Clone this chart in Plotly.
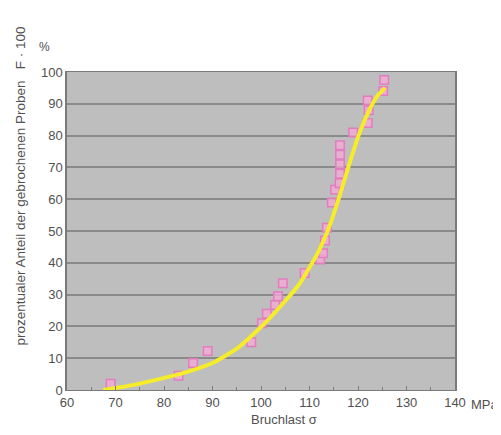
import plotly.graph_objects as go

# Measured data points (Bruchlast in MPa, percentage of broken samples)
sample_x = [69, 83, 86, 89, 98, 100.2, 101.2, 102.9, 103.5, 104.5, 109, 112.2, 112.8, 113.2, 113.6,
            114.6, 115.3, 116.2, 116.3, 116.3, 116.3, 116.3, 119, 122, 122.2, 122, 125.2, 125.4]
sample_y = [2, 4.5, 8.5, 12.3, 15, 21, 24, 26.7, 29.5, 33.6, 36.8, 41, 43, 47, 51,
            59, 63, 65, 68, 71, 74, 77, 81, 84, 88, 91, 94, 97.5]

# Fitted distribution curve
curve_x = [67.5, 70, 75, 80, 85, 90, 95, 100, 105, 108, 110, 112, 114, 116, 118, 120, 122, 124, 125.6]
curve_y = [0, 0.6, 2, 3.8, 5.8, 8.5, 13, 19.8, 28, 33.5, 38.5, 44, 51, 60, 70, 79.5, 87, 92.5, 95]

x_ticks = [60, 70, 80, 90, 100, 110, 120, 130, 140]
y_ticks = [0, 10, 20, 30, 40, 50, 60, 70, 80, 90, 100]

font_family = "Liberation Sans, Arial, sans-serif"
text_color = "#505050"

fig = go.Figure()
fig.add_trace(go.Scatter(
    x=sample_x, y=sample_y, mode="markers",
    marker=dict(symbol="square", size=8.5, color="rgba(245,170,215,0.75)",
                line=dict(color="#e47cc0", width=1.5)),
    showlegend=False, cliponaxis=False,
))
fig.add_trace(go.Scatter(
    x=curve_x, y=curve_y, mode="lines",
    line=dict(color="#f5ec2a", width=4, shape="spline", smoothing=0.5),
    showlegend=False,
))

fig.update_layout(
    width=493, height=427,
    margin=dict(l=59, r=46, t=64, b=45),
    paper_bgcolor="white", plot_bgcolor="#bebebe",
    font=dict(family=font_family, size=13, color=text_color),
    xaxis=dict(range=[60, 140], tickvals=x_ticks, ticktext=[str(v) for v in x_ticks],
               showgrid=False, zeroline=False, showline=True, linecolor="#7a7a7a", linewidth=1,
               mirror=True, ticks="inside", ticklen=4, tickcolor="#7a7a7a",
               minor=dict(dtick=5, ticks="inside", ticklen=3, tickcolor="#7a7a7a"),
               tickfont=dict(size=13, color=text_color)),
    yaxis=dict(range=[0, 100], tickvals=y_ticks, showgrid=True, gridcolor="#8a8a8a", gridwidth=1.5,
               zeroline=False, showline=True, linecolor="#7a7a7a", linewidth=1.5, mirror=True,
               ticks="", tickfont=dict(size=13, color=text_color)),
    annotations=[
        dict(text="prozentualer Anteil der gebrochenen Proben\u00a0\u00a0\u00a0F · 100", textangle=-90,
             xref="paper", yref="paper", x=0, y=0.64, xshift=-47, xanchor="center", yanchor="middle",
             showarrow=False, font=dict(size=13.5, color=text_color)),
        dict(text="%", xref="paper", yref="paper", x=0, y=1.0, xshift=-23, yshift=25,
             xanchor="center", yanchor="middle", showarrow=False, font=dict(size=12, color=text_color)),
        dict(text="Bruchlast σ", xref="paper", yref="paper", x=0.56, y=0, yshift=-20,
             xanchor="center", yanchor="top", showarrow=False, font=dict(size=13, color=text_color)),
        dict(text="MPa", xref="paper", yref="paper", x=1.0, y=0, xshift=14, yshift=-5,
             xanchor="left", yanchor="top", showarrow=False, font=dict(size=13, color=text_color)),
    ],
)

fig.write_html("out.html")
